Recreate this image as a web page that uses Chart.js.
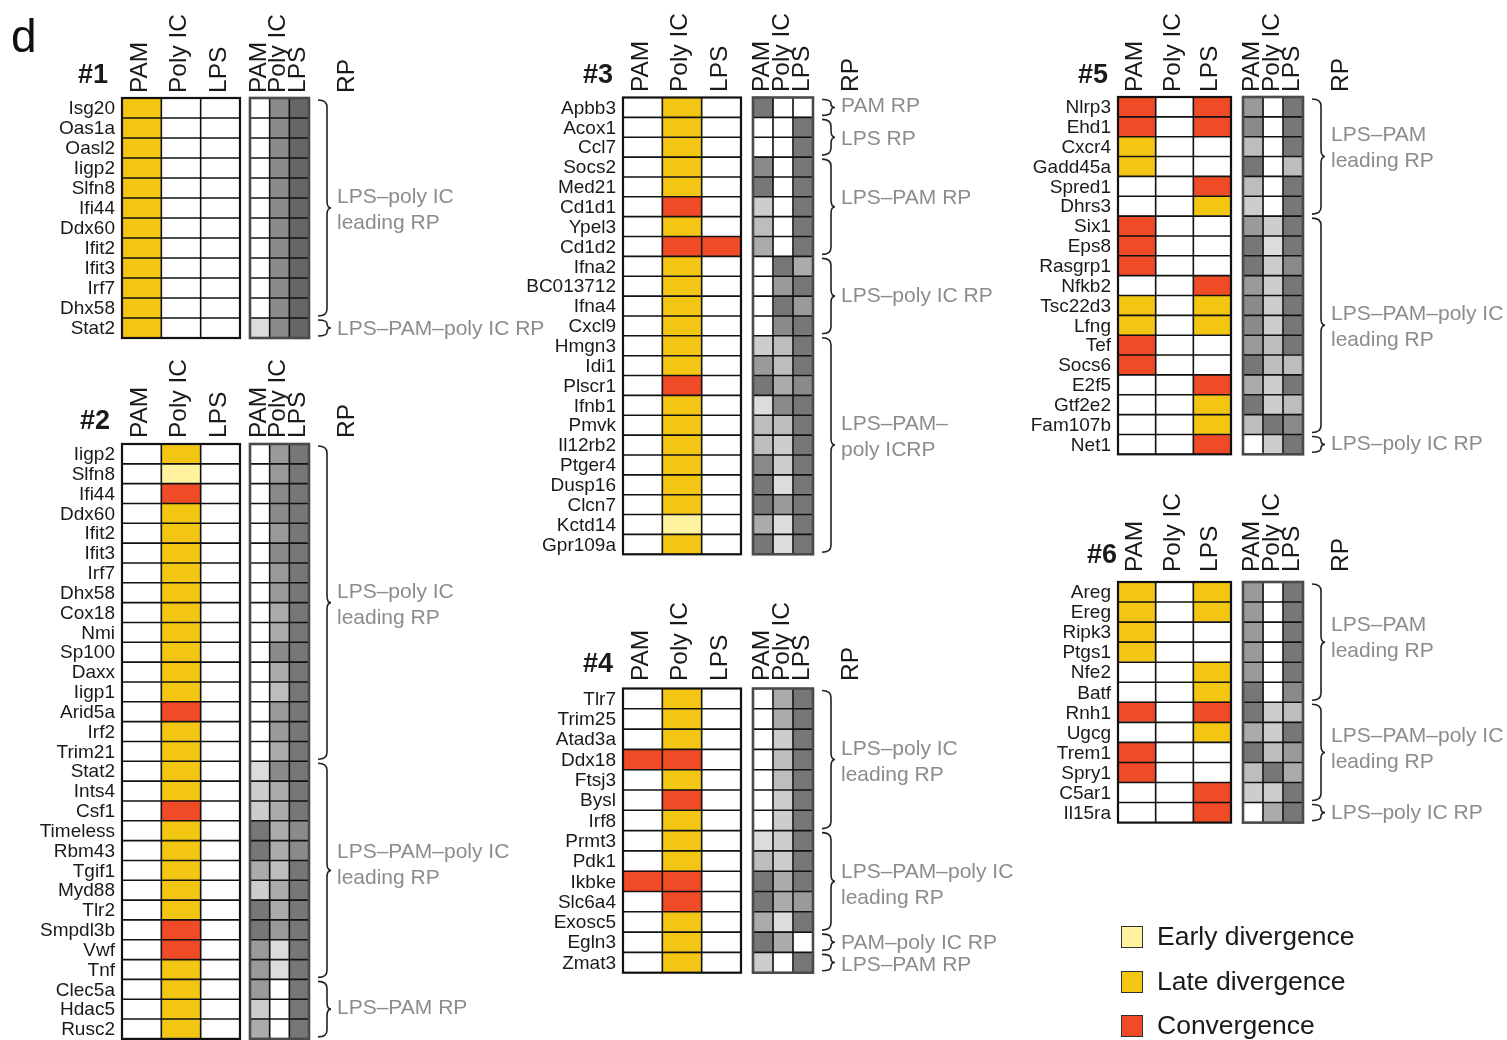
<!DOCTYPE html>
<html>
<head>
<meta charset="utf-8">
<script src="https://cdn.jsdelivr.net/npm/chart.js@4.4.1/dist/chart.umd.min.js"></script>
<style>
  html, body { margin: 0; padding: 0; background: #ffffff; }
  #fig { position: relative; width: 1507px; height: 1040px; overflow: hidden; }
  #fig canvas { position: absolute; left: 0; top: 0; }
</style>
</head>
<body>
<div id="fig"></div>
<script>
// ---- data ---------------------------------------------------------------
const conditions = ['PAM', 'Poly IC', 'LPS'];
const legendLabels = ['Early divergence', 'Late divergence', 'Convergence'];
const legendCodes = ['E', 'L', 'C'];

// divergence per condition (PAM, Poly IC, LPS): E early, L late, C convergence, . none
// RP shade per condition (PAM, Poly IC, LPS): 0 = white ... 8 = darkest gray

const genes1 = ['Isg20', 'Oas1a', 'Oasl2', 'Iigp2', 'Slfn8', 'Ifi44', 'Ddx60', 'Ifit2', 'Ifit3', 'Irf7', 'Dhx58', 'Stat2'];
const div1 = ['L..', 'L..', 'L..', 'L..', 'L..', 'L..', 'L..', 'L..', 'L..', 'L..', 'L..', 'L..'];
const rp1 = ['068', '068', '068', '068', '068', '068', '068', '068', '068', '068', '068', '168'];
const groups1 = [[0, 10, 'LPS–poly IC\nleading RP'], [11, 11, 'LPS–PAM–poly IC RP']];

const genes2 = ['Iigp2', 'Slfn8', 'Ifi44', 'Ddx60', 'Ifit2', 'Ifit3', 'Irf7', 'Dhx58', 'Cox18', 'Nmi',
  'Sp100', 'Daxx', 'Iigp1', 'Arid5a', 'Irf2', 'Trim21', 'Stat2', 'Ints4', 'Csf1', 'Timeless',
  'Rbm43', 'Tgif1', 'Myd88', 'Tlr2', 'Smpdl3b', 'Vwf', 'Tnf', 'Clec5a', 'Hdac5', 'Rusc2'];
const div2 = ['.L.', '.E.', '.C.', '.L.', '.L.', '.L.', '.L.', '.L.', '.L.', '.L.',
  '.L.', '.L.', '.L.', '.C.', '.L.', '.L.', '.L.', '.L.', '.C.', '.L.',
  '.L.', '.L.', '.L.', '.L.', '.C.', '.C.', '.L.', '.L.', '.L.', '.L.'];
const rp2 = ['057', '057', '067', '067', '057', '067', '057', '057', '047', '047',
  '067', '047', '037', '057', '057', '047', '167', '247', '247', '746',
  '746', '437', '247', '747', '757', '517', '517', '507', '207', '407'];
const groups2 = [[0, 15, 'LPS–poly IC\nleading RP'], [16, 26, 'LPS–PAM–poly IC\nleading RP'], [27, 29, 'LPS–PAM RP']];

const genes3 = ['Apbb3', 'Acox1', 'Ccl7', 'Socs2', 'Med21', 'Cd1d1', 'Ypel3', 'Cd1d2', 'Ifna2', 'BC013712',
  'Ifna4', 'Cxcl9', 'Hmgn3', 'Idi1', 'Plscr1', 'Ifnb1', 'Pmvk', 'Il12rb2', 'Ptger4', 'Dusp16',
  'Clcn7', 'Kctd14', 'Gpr109a'];
const div3 = ['.L.', '.L.', '.L.', '.L.', '.L.', '.C.', '.L.', '.CC', '.L.', '.L.',
  '.L.', '.L.', '.L.', '.L.', '.C.', '.L.', '.L.', '.L.', '.L.', '.L.',
  '.L.', '.E.', '.L.'];
const rp3 = ['700', '007', '007', '607', '707', '207', '307', '407', '074', '057',
  '075', '067', '237', '537', '746', '167', '337', '327', '627', '717',
  '757', '417', '717'];
const groups3 = [[0, 0, 'PAM RP'], [1, 2, 'LPS RP'], [3, 7, 'LPS–PAM RP'], [8, 11, 'LPS–poly IC RP'], [12, 22, 'LPS–PAM–\npoly ICRP']];

const genes4 = ['Tlr7', 'Trim25', 'Atad3a', 'Ddx18', 'Ftsj3', 'Bysl', 'Irf8', 'Prmt3', 'Pdk1', 'Ikbke',
  'Slc6a4', 'Exosc5', 'Egln3', 'Zmat3'];
const div4 = ['.L.', '.L.', '.L.', 'CC.', '.L.', '.C.', '.L.', '.L.', '.L.', 'CC.',
  '.C.', '.L.', '.L.', '.L.'];
const rp4 = ['047', '047', '027', '037', '037', '027', '027', '127', '327', '747',
  '745', '417', '740', '207'];
const groups4 = [[0, 6, 'LPS–poly IC\nleading RP'], [7, 11, 'LPS–PAM–poly IC\nleading RP'], [12, 12, 'PAM–poly IC RP'], [13, 13, 'LPS–PAM RP']];

const genes5 = ['Nlrp3', 'Ehd1', 'Cxcr4', 'Gadd45a', 'Spred1', 'Dhrs3', 'Six1', 'Eps8', 'Rasgrp1', 'Nfkb2',
  'Tsc22d3', 'Lfng', 'Tef', 'Socs6', 'E2f5', 'Gtf2e2', 'Fam107b', 'Net1'];
const div5 = ['C.C', 'C.C', 'L..', 'L..', '..C', '..L', 'C..', 'C..', 'C..', '..C',
  'L.L', 'L.L', 'C..', 'C..', '..C', '..L', '..L', '..C'];
const rp5 = ['507', '607', '307', '703', '307', '207', '527', '717', '726', '527',
  '627', '627', '537', '733', '427', '723', '376', '027'];
const groups5 = [[0, 5, 'LPS–PAM\nleading RP'], [6, 16, 'LPS–PAM–poly IC\nleading RP'], [17, 17, 'LPS–poly IC RP']];

const genes6 = ['Areg', 'Ereg', 'Ripk3', 'Ptgs1', 'Nfe2', 'Batf', 'Rnh1', 'Ugcg', 'Trem1', 'Spry1', 'C5ar1', 'Il15ra'];
const div6 = ['L.L', 'L.L', 'L..', 'L..', '..L', '..L', 'C.C', '..L', 'C..', 'C..', '..C', '..C'];
const rp6 = ['507', '507', '507', '507', '507', '706', '723', '427', '735', '374', '227', '047'];
const groups6 = [[0, 5, 'LPS–PAM\nleading RP'], [6, 10, 'LPS–PAM–poly IC\nleading RP'], [11, 11, 'LPS–poly IC RP']];

// ---- styling ------------------------------------------------------------
const W = 1507, H = 1040;
const FONT = "'Liberation Sans', Arial, Helvetica, sans-serif";
const DIV_COLORS = { '.': '#ffffff', E: '#fff3a0', L: '#f3c614', C: '#ee4b26' };
const RP_GRAYS = ['#ffffff', '#dcdcdc', '#cdcdcd', '#bdbdbd', '#ababab', '#9a9a9a', '#8a8a8a', '#777777', '#666666'];

// panel placement (grid left/top, row height, column widths, header offsets,
// vertical nudge of each RP label)
const panels = [
  { title: '#1', genes: genes1, div: div1, rp: rp1, groups: groups1, labelShift: [2, 1],
    gl: 122, gt: 98, rowH: 20, colW: 39.33, gap: 10, grayW: 19.67, titleRight: 108, titleBase: 83, headBottom: 93 },
  { title: '#2', genes: genes2, div: div2, rp: rp2, groups: groups2, labelShift: [3, -5, -1],
    gl: 122, gt: 444, rowH: 19.83, colW: 39.33, gap: 10, grayW: 19.67, titleRight: 110, titleBase: 429, headBottom: 438 },
  { title: '#3', genes: genes3, div: div3, rp: rp3, groups: groups3, labelShift: [-1, 2, -9, 0, -8],
    gl: 623, gt: 97.5, rowH: 19.86, colW: 39.33, gap: 12, grayW: 20, titleRight: 613, titleBase: 83, headBottom: 92 },
  { title: '#4', genes: genes4, div: div4, rp: rp4, groups: groups4, labelShift: [3, 4, 1, 3],
    gl: 623, gt: 688.5, rowH: 20.3, colW: 39.33, gap: 12, grayW: 20, titleRight: 613, titleBase: 672, headBottom: 681 },
  { title: '#5', genes: genes5, div: div5, rp: rp5, groups: groups5, labelShift: [-8, 2, 0],
    gl: 1118, gt: 97, rowH: 19.85, colW: 37.67, gap: 12, grayW: 20, titleRight: 1108, titleBase: 83, headBottom: 92 },
  { title: '#6', genes: genes6, div: div6, rp: rp6, groups: groups6, labelShift: [-4, -3, 1],
    gl: 1118, gt: 582, rowH: 20.05, colW: 37.67, gap: 12, grayW: 20, titleRight: 1117, titleBase: 563, headBottom: 572 }
];

// ---- drawing helpers ----------------------------------------------------
function drawBrace(ctx, xs, top, bot) {
  const xv = xs + 9, xt = xs + 13, ym = (top + bot) / 2;
  const r = Math.min(7, (bot - top) / 4);
  ctx.beginPath();
  ctx.moveTo(xs, top);
  ctx.quadraticCurveTo(xv, top, xv, top + r);
  ctx.lineTo(xv, ym - r);
  ctx.quadraticCurveTo(xv, ym, xt, ym);
  ctx.quadraticCurveTo(xv, ym, xv, ym + r);
  ctx.lineTo(xv, bot - r);
  ctx.quadraticCurveTo(xv, bot, xs, bot);
  ctx.stroke();
}

function vText(ctx, txt, x, yBottom) {
  ctx.save();
  ctx.translate(x, yBottom);
  ctx.rotate(-Math.PI / 2);
  ctx.textAlign = 'left';
  ctx.textBaseline = 'middle';
  ctx.fillText(txt, 0, 0);
  ctx.restore();
}

function decorPlugin(p, extra) {
  return {
    id: 'panelDecor',
    afterDatasetsDraw(chart) {
      const ctx = chart.ctx;
      const xs = chart.scales.x, ys = chart.scales.y;
      const area = chart.chartArea;
      const n = p.genes.length;
      const g0 = 3 * p.colW + p.gap;
      const cL = xs.getPixelForValue(0), cR = xs.getPixelForValue(3 * p.colW);
      const gL = xs.getPixelForValue(g0), gR = xs.getPixelForValue(g0 + 3 * p.grayW);
      const half = (ys.getPixelForValue(1) - ys.getPixelForValue(0)) / 2;

      ctx.save();
      // cell grid lines
      ctx.strokeStyle = '#111';
      ctx.lineWidth = 1.6;
      ctx.beginPath();
      for (let i = 1; i < n; i++) {
        const yy = ys.getPixelForValue(i) - half;
        ctx.moveTo(cL, yy); ctx.lineTo(cR, yy);
        ctx.moveTo(gL, yy); ctx.lineTo(gR, yy);
      }
      for (let j = 1; j < 3; j++) {
        const xc = xs.getPixelForValue(j * p.colW);
        const xg = xs.getPixelForValue(g0 + j * p.grayW);
        ctx.moveTo(xc, area.top); ctx.lineTo(xc, area.bottom);
        ctx.moveTo(xg, area.top); ctx.lineTo(xg, area.bottom);
      }
      ctx.stroke();

      // outer frames
      ctx.lineWidth = 2.2;
      ctx.strokeStyle = '#111';
      ctx.strokeRect(cL, area.top, cR - cL, area.bottom - area.top);
      ctx.lineWidth = 2.6;
      ctx.strokeStyle = '#4a4a4a';
      ctx.strokeRect(gL, area.top, gR - gL, area.bottom - area.top);

      // title
      ctx.fillStyle = '#1a1a1a';
      ctx.font = `bold 27px ${FONT}`;
      ctx.textAlign = 'right';
      ctx.textBaseline = 'alphabetic';
      ctx.fillText(p.title, p.titleRight, p.titleBase);

      // column headers
      ctx.font = `24.5px ${FONT}`;
      conditions.forEach((c, j) => {
        vText(ctx, c, xs.getPixelForValue((j + 0.5) * p.colW) - 1.5, p.headBottom);
        vText(ctx, c, xs.getPixelForValue(g0 + (j + 0.5) * p.grayW) - 1, p.headBottom);
      });
      vText(ctx, 'RP', gR + 38, p.headBottom);

      // response-pattern braces and labels
      ctx.strokeStyle = '#222';
      ctx.lineWidth = 1.6;
      ctx.font = `21px ${FONT}`;
      ctx.fillStyle = '#8c8c8c';
      ctx.textAlign = 'left';
      ctx.textBaseline = 'middle';
      p.groups.forEach(([a, b, label], k) => {
        const top = ys.getPixelForValue(a) - half + 2;
        const bot = ys.getPixelForValue(b) + half - 2;
        drawBrace(ctx, gR + 9, top, bot);
        const lines = label.split('\n');
        const ym = (top + bot) / 2 + (p.labelShift[k] || 0);
        lines.forEach((ln, i) => {
          ctx.fillText(ln, gR + 28, ym + (i - (lines.length - 1) / 2) * 26);
        });
      });
      ctx.restore();
      if (extra) extra(ctx);
    }
  };
}

function drawPanelLetter(ctx) {
  ctx.save();
  ctx.fillStyle = '#111';
  ctx.font = `46px ${FONT}`;
  ctx.textAlign = 'left';
  ctx.textBaseline = 'alphabetic';
  ctx.fillText('d', 11, 52);
  ctx.restore();
}

function drawLegend(ctx) {
  ctx.save();
  const ys = [926, 971, 1015];
  ctx.font = `26.5px ${FONT}`;
  ctx.textAlign = 'left';
  ctx.textBaseline = 'middle';
  legendLabels.forEach((lab, i) => {
    ctx.fillStyle = DIV_COLORS[legendCodes[i]];
    ctx.fillRect(1121, ys[i], 22, 22);
    ctx.strokeStyle = '#333';
    ctx.lineWidth = 1;
    ctx.strokeRect(1121.5, ys[i] + 0.5, 21, 21);
    ctx.fillStyle = '#1a1a1a';
    ctx.fillText(lab, 1157, ys[i] + 12);
  });
  ctx.restore();
}

// ---- charts -------------------------------------------------------------
const fig = document.getElementById('fig');

function makePanel(p, extra) {
  const canvas = document.createElement('canvas');
  canvas.width = W;
  canvas.height = H;
  fig.appendChild(canvas);

  const n = p.genes.length;
  const xMax = 3 * p.colW + p.gap + 3 * p.grayW;
  const gR = p.gl + xMax;
  const gB = p.gt + n * p.rowH;
  const g0 = 3 * p.colW + p.gap;
  const cellStyle = { borderWidth: 0, borderSkipped: false };

  const datasets = [];
  conditions.forEach((c, j) => {
    datasets.push(Object.assign({
      label: c,
      data: p.genes.map(() => [j * p.colW, (j + 1) * p.colW]),
      backgroundColor: p.div.map(s => DIV_COLORS[s[j]])
    }, cellStyle));
  });
  conditions.forEach((c, j) => {
    datasets.push(Object.assign({
      label: c + ' RP',
      data: p.genes.map(() => [g0 + j * p.grayW, g0 + (j + 1) * p.grayW]),
      backgroundColor: p.rp.map(s => RP_GRAYS[+s[j]])
    }, cellStyle));
  });

  return new Chart(canvas, {
    type: 'bar',
    data: { labels: p.genes, datasets },
    options: {
      indexAxis: 'y',
      responsive: false,
      animation: false,
      events: [],
      layout: { padding: { left: 0, top: p.gt, right: W - gR, bottom: H - gB } },
      datasets: { bar: { grouped: false, barPercentage: 1, categoryPercentage: 1, inflateAmount: 0.5 } },
      plugins: { legend: { display: false }, tooltip: { enabled: false } },
      scales: {
        x: { type: 'linear', display: false, min: 0, max: xMax },
        y: {
          type: 'category',
          grid: { display: false, drawTicks: false },
          border: { display: false },
          ticks: { autoSkip: false, padding: 7, labelOffset: 1, color: '#1a1a1a', font: { family: FONT, size: 19 } },
          afterFit(scale) { scale.width = p.gl; scale.paddingTop = 0; scale.paddingBottom = 0; }
        }
      }
    },
    plugins: [decorPlugin(p, extra)]
  });
}

panels.forEach((p, i) => {
  const extra = i === 0 ? drawPanelLetter : (i === 5 ? drawLegend : null);
  makePanel(p, extra);
});
</script>
</body>
</html>
